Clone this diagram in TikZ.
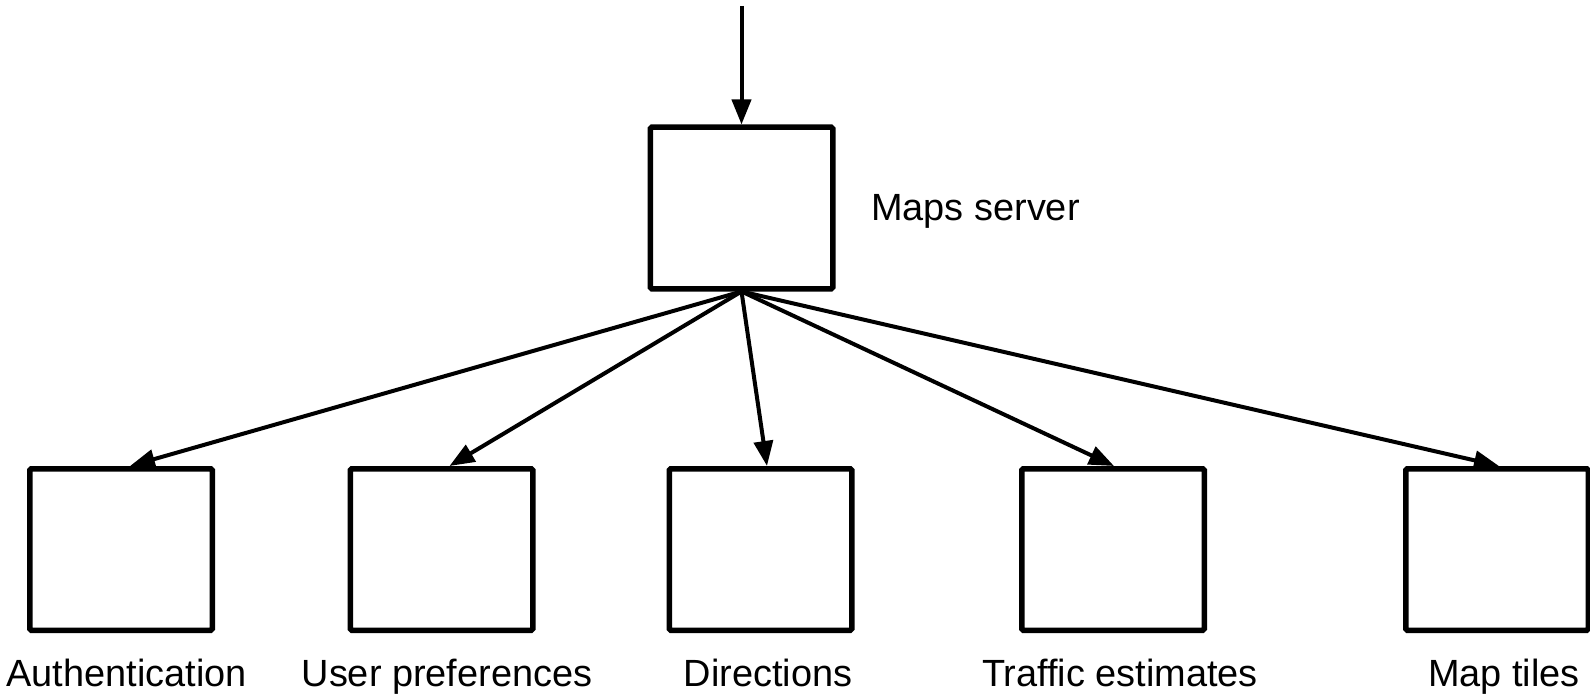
\documentclass[tikz,border=0pt]{standalone}
\usepackage{fontspec}
\setmainfont{Liberation Sans}
\usetikzlibrary{arrows.meta}
\begin{document}
\begin{tikzpicture}[x=1pt,y=-1pt,
  box/.style={draw, line width=5.5pt, minimum width=182.5pt, minimum height=161.5pt,
    inner sep=0pt, rounded corners=1.5pt},
  link/.style={line width=4pt, -{Triangle[length=25pt,width=19pt]}},
  lbl/.style={font=\fontsize{37.9}{44}\selectfont, inner sep=0pt, anchor=base}]
\useasboundingbox (0,0) rectangle (1590,695);

% server box and incoming request
\node[box] (server) at (741.5,208) {};
\node[lbl, anchor=base west] (serverlbl) at (871,221) {Maps server};
\coordinate (entry) at (741.5,6);
\draw[link] (entry) -- (server.north);

% backend boxes
\node[box] (auth)    at (121,549.5)    {};
\node[box] (prefs)   at (441.5,549.5)  {};
\node[box] (dirs)    at (760.5,549.5)  {};
\node[box] (traffic) at (1113,549.5)   {};
\node[box] (tiles)   at (1497,549.5)   {};

% labels
\node[lbl] (authlbl)    at (126.5,686) {Authentication};
\node[lbl] (prefslbl)   at (447,686)   {User preferences};
\node[lbl] (dirslbl)    at (768,686)   {Directions};
\node[lbl] (trafficlbl) at (1120,686)  {Traffic estimates};
\node[lbl] (tileslbl)   at (1504,686)  {Map tiles};

% fan-out from the server
\draw[link] (server.south) -- ([xshift=9pt]auth.north);
\draw[link] (server.south) -- ([xshift=8pt]prefs.north);
\draw[link] (server.south) -- ([xshift=6.5pt]dirs.north);
\draw[link] (server.south) -- ([xshift=1pt]traffic.north);
\draw[link] (server.south) -- ([xshift=2pt]tiles.north);
\end{tikzpicture}
\end{document}
